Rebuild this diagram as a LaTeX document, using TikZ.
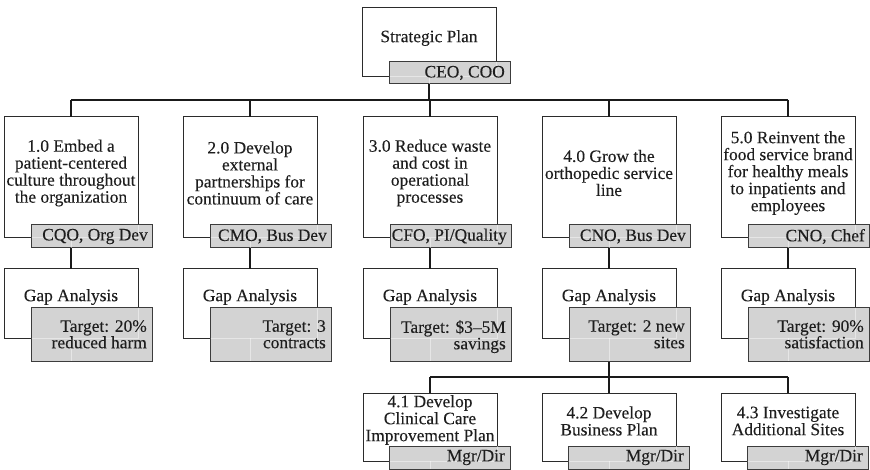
\documentclass[tikz,border=0pt]{standalone}
\usepackage{fontspec}
\setmainfont{Liberation Serif}[FakeBold=0.15]
\definecolor{boxline}{HTML}{2B2B2B}
\definecolor{tagline}{HTML}{3C3C3C}
\definecolor{tagfill}{HTML}{D3D3D3}
\definecolor{textcol}{HTML}{1E1E1E}
\definecolor{linkcol}{HTML}{1A1A1A}
\tikzset{
  box/.style={draw=boxline, line width=1pt, fill=white, anchor=north west, minimum width=134pt, inner sep=0pt, outer sep=0pt},
  tagbox/.style={draw=tagline, line width=1pt, fill=tagfill, anchor=north west, minimum width=121pt, inner sep=0pt, outer sep=0pt},
  txt/.style={text=textcol, align=center, inner sep=0pt, font=\fontsize{17.4}{17}\selectfont},
  tagtxt/.style={text=textcol, align=right, inner sep=0pt, font=\fontsize{17.4}{16.5}\selectfont},
  link/.style={draw=linkcol, line width=1.3pt},
  ghost/.style={draw=white, draw opacity=0.45, line width=1pt},
}
\newcommand{\ghostin}[2]{%
  \begin{scope}
    \clip ([shift={(0.8pt,0.8pt)}]#2.south west) rectangle ([shift={(-0.8pt,-0.8pt)}]#2.north east);
    \draw[ghost] (#1.south west) rectangle (#1.north east);
    \draw[ghost] (#1.south) -- (#1.south |- #2.south);
  \end{scope}}
\begin{document}
\begin{tikzpicture}[x=1pt,y=-1pt]
\path[use as bounding box, fill=white] (0,0) rectangle (870,470);

% ---- white boxes ----
\node[box, minimum height=69pt] (T) at (362,8) {};
\node[box, minimum height=121pt] (B1) at (4,117) {};
\node[box, minimum height=121pt] (B2) at (183,117) {};
\node[box, minimum height=121pt] (B3) at (363,117) {};
\node[box, minimum height=121pt] (B4) at (542,117) {};
\node[box, minimum height=121pt] (B5) at (721,117) {};
\node[box, minimum height=69pt] (G1) at (4,269) {};
\node[box, minimum height=69pt] (G2) at (183,269) {};
\node[box, minimum height=69pt] (G3) at (363,269) {};
\node[box, minimum height=69pt] (G4) at (542,269) {};
\node[box, minimum height=69pt] (G5) at (721,269) {};
\node[box, minimum height=68pt] (C1) at (363,393) {};
\node[box, minimum height=68pt] (C2) at (542,393) {};
\node[box, minimum height=68pt] (C3) at (721,393) {};

% ---- connectors ----
\coordinate (busA) at (0,100);
\coordinate (busB) at (0,377);
\draw[link] (T.south) -- (T.south |- busA);
\draw[link] (B1.north |- busA) -- (B5.north |- busA);
\foreach \b in {B1,B2,B3,B4,B5} { \draw[link] (\b.north |- busA) -- (\b.north); }
\draw[link] (B1.south) -- (G1.north);
\draw[link] (B2.south) -- (G2.north);
\draw[link] (B3.south) -- (G3.north);
\draw[link] (B4.south) -- (G4.north);
\draw[link] (B5.south) -- (G5.north);
\draw[link] (G4.south) -- (G4.south |- busB);
\draw[link] (C1.north |- busB) -- (C3.north |- busB);
\foreach \c in {C1,C2,C3} { \draw[link] (\c.north |- busB) -- (\c.north); }

% ---- grey tags ----
\node[tagbox, minimum height=22pt] (TL) at (389,62) {};
\node[tagbox, minimum height=23pt] (BL1) at (31,225) {};
\node[tagbox, minimum height=23pt] (BL2) at (210,225) {};
\node[tagbox, minimum height=23pt] (BL3) at (390,225) {};
\node[tagbox, minimum height=23pt] (BL4) at (569,225) {};
\node[tagbox, minimum height=23pt] (BL5) at (748,225) {};
\node[tagbox, minimum height=53pt] (GL1) at (31,308) {};
\node[tagbox, minimum height=53pt] (GL2) at (210,308) {};
\node[tagbox, minimum height=53pt] (GL3) at (390,308) {};
\node[tagbox, minimum height=53pt] (GL4) at (569,308) {};
\node[tagbox, minimum height=53pt] (GL5) at (748,308) {};
\node[tagbox, minimum height=23pt] (CL1) at (389,446) {};
\node[tagbox, minimum height=23pt] (CL2) at (568,446) {};
\node[tagbox, minimum height=23pt] (CL3) at (747,446) {};

% faint lines showing through the tags
\ghostin{T}{TL}
\ghostin{B1}{BL1}\ghostin{B2}{BL2}\ghostin{B3}{BL3}\ghostin{B4}{BL4}\ghostin{B5}{BL5}
\ghostin{G1}{GL1}\ghostin{G2}{GL2}\ghostin{G3}{GL3}\ghostin{G4}{GL4}\ghostin{G5}{GL5}
\ghostin{C1}{CL1}\ghostin{C2}{CL2}\ghostin{C3}{CL3}

% ---- texts ----
\node[txt] (Tt) at (429,38) {Strategic Plan};
\node[txt] (B1t) at (71,173) {1.0 Embed a\\patient-centered\\culture throughout\\the organization};
\node[txt] (B2t) at (250,173) {2.0 Develop\\external\\partnerships for\\continuum of care};
\node[txt] (B3t) at (430,173) {3.0 Reduce waste\\and cost in\\operational\\processes};
\node[txt] (B4t) at (609,173) {4.0 Grow the\\orthopedic service\\line};
\node[txt] (B5t) at (788,173) {5.0 Reinvent the\\food service brand\\for healthy meals\\to inpatients and\\employees};
\foreach \g/\x in {G1/71,G2/250,G3/430,G4/609,G5/788} { \node[txt] (\g t) at (\x,297) {Gap Analysis}; }
\node[txt] (C1t) at (430,420) {4.1 Develop\\Clinical Care\\Improvement Plan};
\node[txt] (C2t) at (609,421) {4.2 Develop\\Business Plan};
\node[txt] (C3t) at (788,421) {4.3 Investigate\\Additional Sites};

\node[tagtxt, anchor=east] (TLt) at ([xshift=-5pt]TL.east) {CEO, COO};
\node[tagtxt, anchor=east] (BL1t) at ([xshift=-4pt]BL1.east) {CQO, Org Dev};
\node[tagtxt, anchor=east] (BL2t) at ([xshift=-4pt]BL2.east) {CMO, Bus Dev};
\node[tagtxt, anchor=east] (BL3t) at ([xshift=-4pt]BL3.east) {CFO, PI/Quality};
\node[tagtxt, anchor=east] (BL4t) at ([xshift=-4pt]BL4.east) {CNO, Bus Dev};
\node[tagtxt, anchor=east] (BL5t) at ([xshift=-4pt]BL5.east) {CNO, Chef};
\node[tagtxt, anchor=north east] (GL1t) at ([shift={(-5pt,-12pt)}]GL1.north east) {Target: 20\%\\reduced harm};
\node[tagtxt, anchor=north east] (GL2t) at ([shift={(-5pt,-12pt)}]GL2.north east) {Target: 3\\contracts};
\node[tagtxt, anchor=north east] (GL3t) at ([shift={(-5pt,-12pt)}]GL3.north east) {Target: \$3--5M\\savings};
\node[tagtxt, anchor=north east] (GL4t) at ([shift={(-5pt,-12pt)}]GL4.north east) {Target: 2 new\\sites};
\node[tagtxt, anchor=north east] (GL5t) at ([shift={(-5pt,-12pt)}]GL5.north east) {Target: 90\%\\satisfaction};
\node[tagtxt, anchor=east] (CL1t) at ([xshift=-5pt]CL1.east) {Mgr/Dir};
\node[tagtxt, anchor=east] (CL2t) at ([xshift=-5pt]CL2.east) {Mgr/Dir};
\node[tagtxt, anchor=east] (CL3t) at ([xshift=-5pt]CL3.east) {Mgr/Dir};
\end{tikzpicture}
\end{document}
